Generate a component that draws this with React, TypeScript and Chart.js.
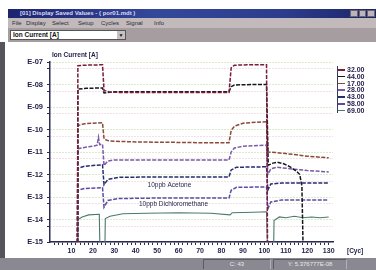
import React, { useEffect, useRef } from 'react';
import { Chart, registerables } from 'chart.js';

Chart.register(...registerables);

// ---- data ----
const seriesNames = ['32.00', '44.00', '17.00', '28.00', '43.00', '58.00', '69.00'];
const seriesColors = ['#7a1c3c', '#16161e', '#8c4a3a', '#7a5aa8', '#262c6c', '#5a4ca4', '#4c7a6c'];

const mz32: [number, number][] = [
  [12.8, 1e-16], [13, 6.8e-8], [16, 7.2e-8], [20, 7.4e-8], [24.5, 7.5e-8],
  [25.2, 5.5e-9], [28, 4.5e-9], [40, 4.4e-9], [60, 4.4e-9], [83.5, 4.4e-9],
  [84.5, 5.5e-8], [86, 7.2e-8], [92, 7.5e-8], [101, 7.5e-8], [101.5, 1e-16],
];
const mz44: [number, number][] = [
  [12.8, 1e-16], [13, 6.2e-9], [17, 6.8e-9], [24.5, 7e-9], [25.2, 4.2e-9],
  [30, 4.8e-9], [50, 4.8e-9], [70, 4.7e-9], [83.5, 4.8e-9], [84.5, 8e-9],
  [86, 9.5e-9], [95, 1e-8], [101, 1e-8], [101.8, 2.6e-12], [104, 3.2e-12],
  [106, 3.5e-12], [109, 3e-12], [112, 2.2e-12], [115, 1.4e-12], [116.5, 1e-12],
  [117.5, 3e-13], [118.2, 1e-16],
];
const mz17: [number, number][] = [
  [12.8, 1e-16], [13, 1.5e-10], [16, 1.8e-10], [20, 1.9e-10], [24.5, 2e-10],
  [25.2, 3.8e-11], [27, 3.2e-11], [30, 3e-11], [40, 2.8e-11], [55, 2.7e-11],
  [70, 2.6e-11], [83.5, 2.6e-11], [84.5, 9e-11], [86, 1.4e-10], [90, 1.9e-10],
  [96, 2.1e-10], [101, 2.2e-10], [101.6, 1e-11], [105, 9.5e-12], [110, 8.5e-12],
  [115, 7.5e-12], [120, 6.5e-12], [125, 6e-12], [130, 5.5e-12],
];
const mz28: [number, number][] = [
  [12.8, 1e-16], [13, 1.4e-11], [16, 1.6e-11], [20, 1.8e-11], [22, 2e-11],
  [22.6, 4.5e-11], [23.2, 2.1e-11], [24.5, 2.2e-11], [25.2, 2.5e-12], [27, 4e-12],
  [30, 4.4e-12], [50, 4.4e-12], [70, 4.4e-12], [83.5, 4.4e-12], [84.5, 1e-11],
  [86, 1.5e-11], [90, 1.8e-11], [101, 2e-11], [101.6, 1e-12], [103, 1.8e-12],
  [106, 2.1e-12], [112, 1.8e-12], [120, 1.5e-12], [130, 1.3e-12],
];
const mz43: [number, number][] = [
  [12.8, 1e-16], [13, 1.9e-12], [16, 2.3e-12], [20, 2.5e-12], [24.5, 2.7e-12],
  [25.2, 3.5e-13], [27, 6e-13], [32, 7.5e-13], [50, 7.8e-13], [70, 7.8e-13],
  [83.5, 7.8e-13], [84.5, 1.6e-12], [87, 2.1e-12], [101, 2.2e-12], [101.6, 2e-13],
  [103, 3.8e-13], [108, 4.2e-13], [130, 4.2e-13],
];
const mz58: [number, number][] = [
  [12.8, 1e-16], [13, 2e-13], [16, 2.4e-13], [24.5, 2.6e-13], [25.2, 3.5e-14],
  [27, 7e-14], [32, 8.5e-14], [50, 9e-14], [83.5, 9e-14], [84.5, 2e-13],
  [87, 2.7e-13], [101, 2.8e-13], [101.6, 3e-14], [103, 6e-14], [108, 7.4e-14],
  [130, 7.4e-14],
];
const mz69: [number, number][] = [
  [12.8, 1e-16], [13, 1e-14], [15, 1.3e-14], [18, 1.6e-14], [23, 1.7e-14],
  [23.4, 1e-16], [25.5, 1e-16], [25.8, 1.1e-14], [28, 1.4e-14], [34, 1.8e-14],
  [45, 1.9e-14], [60, 2e-14], [75, 1.9e-14], [84, 1.6e-14], [85, 2e-14],
  [95, 2.1e-14], [101, 2.2e-14], [101.6, 1e-16], [104.2, 1e-16], [104.5, 9e-15],
  [107, 1.3e-14], [110, 1.2e-14], [114, 1.4e-14], [118, 1.2e-14], [122, 1.3e-14],
  [126, 1.2e-14], [130, 1.3e-14],
];
const seriesData = [mz32, mz44, mz17, mz28, mz43, mz58, mz69];

const yDecades = [1e-15, 1e-14, 1e-13, 1e-12, 1e-11, 1e-10, 1e-9, 1e-8, 1e-7];
const yDecadeLabels = ['E-15', 'E-14', 'E-13', 'E-12', 'E-11', 'E-10', 'E-09', 'E-08', 'E-07'];
const yHalfDecades = [5e-15, 5e-14, 5e-13, 5e-12, 5e-11, 5e-10, 5e-9, 5e-8];
const xTickLabels = [10, 20, 30, 40, 50, 60, 70, 80, 90, 100, 110, 120, 130];

const axisTitle = 'Ion Current [A]';
const xUnit = '[Cyc]';
const notes = [
  { text: '10ppb Acetone', cycle: 55.7, value: 3.4e-13 },
  { text: '10ppb Dichloromethane', cycle: 57.6, value: 4.9e-14 },
];

const FONT = '"Liberation Sans", Arial, sans-serif';
const INK = '#1e1e46';

const overlayPlugin = {
  id: 'overlay',
  afterDraw(chart: any) {
    const { ctx, chartArea, scales } = chart;
    ctx.save();
    ctx.fillStyle = INK;
    ctx.textBaseline = 'middle';
    ctx.textAlign = 'left';
    ctx.font = `bold 6.5px ${FONT}`;
    ctx.fillText(axisTitle, chartArea.left + 2, chartArea.top - 7);
    ctx.fillText(xUnit, chartArea.right + 14, chartArea.bottom + 9);
    ctx.font = `6.5px ${FONT}`;
    ctx.textAlign = 'center';
    notes.forEach((n) => {
      ctx.fillText(n.text, scales.x.getPixelForValue(n.cycle), scales.y.getPixelForValue(n.value));
    });
    ctx.restore();
  },
};

function ChartPanel() {
  const ref = useRef<HTMLCanvasElement | null>(null);
  useEffect(() => {
    if (!ref.current) return;
    const minorX: number[] = [];
    for (let v = 2; v <= 130; v += 2) minorX.push(v);
    const chart = new Chart(ref.current, {
      type: 'line',
      data: {
        datasets: seriesData.map((d, i) => ({
          label: seriesNames[i],
          data: d.map(([x, y]) => ({ x, y })),
          borderColor: seriesColors[i],
          borderWidth: i === 6 ? 1.1 : 1.5,
          borderDash: i === 6 ? [] : [4, 1.5],
          pointRadius: 0,
          tension: 0,
          fill: false,
        })),
      },
      options: {
        animation: false,
        responsive: false,
        devicePixelRatio: 1,
        layout: { padding: { top: 20, right: 43, left: 0, bottom: 0 } },
        plugins: { legend: { display: false }, tooltip: { enabled: false }, title: { display: false } },
        scales: {
          x: {
            type: 'linear',
            min: 0,
            max: 132,
            afterBuildTicks: (s: any) => {
              s.ticks = minorX.map((v) => ({ value: v }));
            },
            afterFit: (s: any) => {
              s.height = 16;
            },
            ticks: {
              autoSkip: false,
              maxRotation: 0,
              padding: 2,
              color: INK,
              font: { family: FONT, size: 7, weight: 'bold' },
              callback: (v: any) => (xTickLabels.includes(Number(v)) ? String(v) : ''),
            },
            grid: { drawOnChartArea: false, drawTicks: true, tickLength: 3, color: '#2b2b55' },
            border: { color: '#2b2b55', width: 1.5 },
          },
          y: {
            type: 'logarithmic',
            min: 1e-15,
            max: 1e-7,
            afterBuildTicks: (s: any) => {
              s.ticks = [...yDecades, ...yHalfDecades].sort((a, b) => a - b).map((v) => ({ value: v }));
            },
            afterFit: (s: any) => {
              s.width = 44;
            },
            ticks: {
              autoSkip: false,
              padding: 4,
              color: INK,
              font: { family: FONT, size: 7.5, weight: 'bold' },
              callback: (v: any) => {
                const idx = yDecades.findIndex((d) => Math.abs(Math.log10(d) - Math.log10(Number(v))) < 1e-6);
                return idx >= 0 ? yDecadeLabels[idx] : '';
              },
            },
            grid: {
              color: (c: any) => {
                const v = c.tick ? c.tick.value : 0;
                const isDec = yDecades.some((d) => Math.abs(Math.log10(d) - Math.log10(v)) < 1e-6);
                return isDec ? '#b8d294' : '#e2c4ce';
              },
              tickColor: '#2b2b55',
              tickLength: 3,
              lineWidth: 1,
            },
            border: { color: '#2b2b55', width: 1.5, dash: [1, 2] },
          },
        },
      } as any,
      plugins: [overlayPlugin],
    });
    return () => chart.destroy();
  }, []);
  return <canvas ref={ref} width={370} height={216} style={{ display: 'block', width: 370, height: 216 }} />;
}

const menuItems = ['File', 'Display', 'Select', 'Setup', 'Cycles', 'Signal', 'Info'];

export default function App() {
  return (
    <div
      style={{
        position: 'fixed',
        left: 0,
        top: 0,
        width: 376,
        height: 270,
        background: '#ffffff',
        overflow: 'hidden',
        fontFamily: FONT,
      }}
    >
      {/* title bar */}
      <div
        style={{
          position: 'absolute',
          left: 8,
          top: 9,
          width: 368,
          height: 9,
          background: 'linear-gradient(90deg,#1d2470 0%,#34489a 40%,#2c3c8c 75%,#1c2468 100%)',
        }}
      >
        <span
          style={{
            position: 'absolute',
            left: 12,
            top: 0,
            fontSize: 6,
            lineHeight: '9px',
            color: '#dcdcf4',
            fontWeight: 700,
            whiteSpace: 'nowrap',
          }}
        >
          [01] Display Saved Values - ( por01.mdt )
        </span>
        {[0, 1, 2].map((i) => (
          <div
            key={i}
            style={{
              position: 'absolute',
              left: 342 + i * 8.5,
              top: 1,
              width: 7.5,
              height: 7,
              background: '#bcb4b8',
              boxSizing: 'border-box',
              border: '1px solid #6a6470',
            }}
          />
        ))}
      </div>
      {/* menu bar */}
      <div style={{ position: 'absolute', left: 8, top: 18, width: 368, height: 10, background: '#c2baba' }}>
        {menuItems.map((m, i) => (
          <span
            key={m}
            style={{
              position: 'absolute',
              left: [4, 18, 44, 70, 93, 118, 146][i],
              top: 0,
              fontSize: 6,
              lineHeight: '10px',
              color: '#2a2a3a',
              whiteSpace: 'nowrap',
            }}
          >
            {m}
          </span>
        ))}
      </div>
      {/* toolbar */}
      <div style={{ position: 'absolute', left: 8, top: 28, width: 368, height: 14, background: '#a59d9f' }}>
        <div
          style={{
            position: 'absolute',
            left: 2,
            top: 2,
            width: 116,
            height: 10,
            background: '#ffffff',
            boxSizing: 'border-box',
            border: '1px solid #555',
          }}
        >
          <span
            style={{
              position: 'absolute',
              left: 2,
              top: 0,
              fontSize: 6.5,
              lineHeight: '8px',
              fontWeight: 700,
              color: '#111',
              whiteSpace: 'nowrap',
            }}
          >
            Ion Current [A]
          </span>
          <div
            style={{
              position: 'absolute',
              right: 0,
              top: 0,
              width: 8,
              height: 8,
              background: '#c8c0c2',
              fontSize: 5,
              lineHeight: '8px',
              textAlign: 'center',
              color: '#111',
            }}
          >
            ▼
          </div>
        </div>
      </div>
      {/* left frame */}
      <div style={{ position: 'absolute', left: 0, top: 42, width: 5, height: 216, background: '#55545c' }} />
      {/* chart */}
      <div style={{ position: 'absolute', left: 6, top: 42, width: 370, height: 216 }}>
        <ChartPanel />
      </div>
      {/* legend */}
      <div style={{ position: 'absolute', left: 337, top: 66, width: 1.2, height: 47, background: '#3a3a5a' }} />
      {seriesNames.map((n, i) => (
        <div key={n} style={{ position: 'absolute', left: 338, top: 66 + i * 6.8, height: 7, width: 38 }}>
          <div
            style={{ position: 'absolute', left: 0, top: 3, width: 7, height: 1.5, background: seriesColors[i] }}
          />
          <span
            style={{
              position: 'absolute',
              left: 9,
              top: 0,
              fontSize: 7,
              lineHeight: '7px',
              fontWeight: 700,
              color: '#2a2050',
              whiteSpace: 'nowrap',
            }}
          >
            {n}
          </span>
        </div>
      ))}
      {/* status bar */}
      <div style={{ position: 'absolute', left: 0, top: 258, width: 376, height: 12, background: '#8a8890' }}>
        <div
          style={{
            position: 'absolute',
            left: 203,
            top: 1,
            width: 68,
            height: 10,
            boxSizing: 'border-box',
            borderLeft: '1px solid #5c5a62',
            borderTop: '1px solid #5c5a62',
            borderRight: '1px solid #b4b2b8',
            fontSize: 6,
            lineHeight: '9px',
            color: '#e8e8ee',
            textAlign: 'center',
          }}
        >
          C: 43
        </div>
        <div
          style={{
            position: 'absolute',
            left: 273,
            top: 1,
            width: 74,
            height: 10,
            boxSizing: 'border-box',
            borderLeft: '1px solid #5c5a62',
            borderTop: '1px solid #5c5a62',
            borderRight: '1px solid #b4b2b8',
            fontSize: 6,
            lineHeight: '9px',
            color: '#e8e8ee',
            textAlign: 'center',
            whiteSpace: 'nowrap',
          }}
        >
          Y: 5.376777E-08
        </div>
      </div>
    </div>
  );
}
